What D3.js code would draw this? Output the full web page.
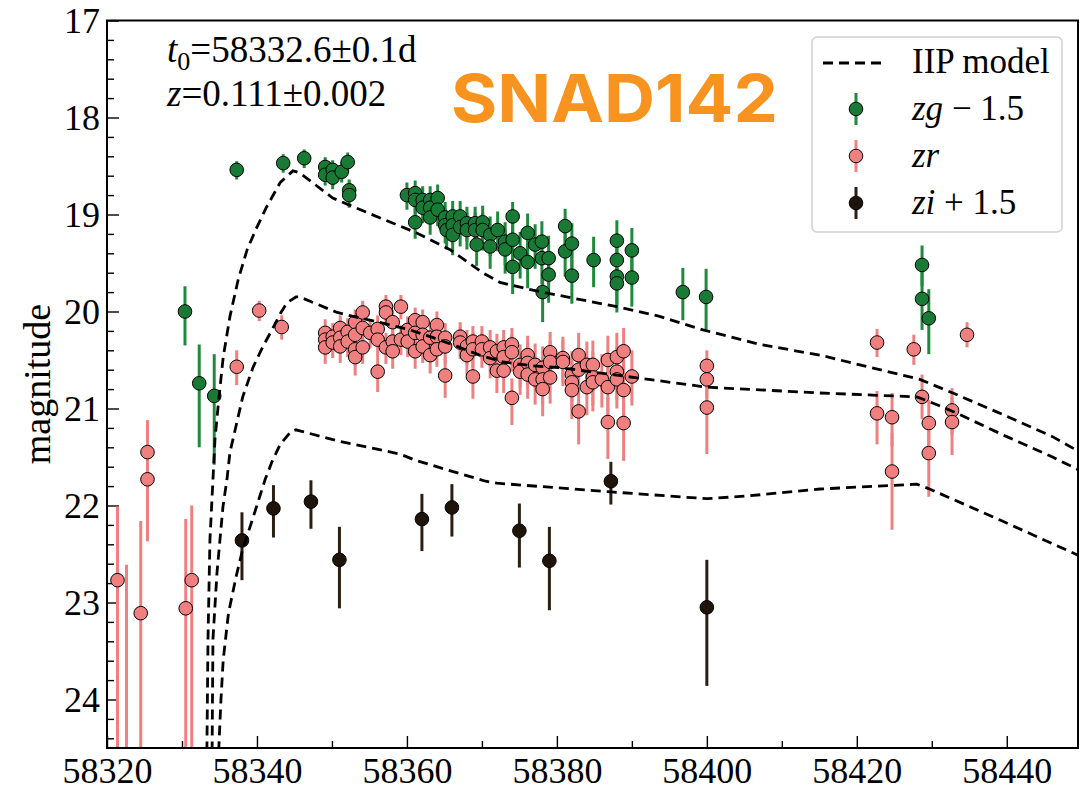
<!DOCTYPE html>
<html>
<head>
<meta charset="utf-8">
<script src="https://cdn.jsdelivr.net/npm/d3@7"></script>
<style>
  body { margin: 0; background: #fff; }
  svg { display: block; }
</style>
</head>
<body>
<div id="chart"></div>
<script>
// ---- data ----
// points: [MJD, magnitude, error toward brighter, error toward fainter]
var zgPoints = [
    [58330.4, 20.00, 0.26, 0.35], [58332.3, 20.74, 0.40, 0.66], [58334.3, 20.87, 0.43, 0.71],
    [58337.3, 18.54, 0.09, 0.10], [58343.5, 18.47, 0.09, 0.10], [58346.3, 18.42, 0.09, 0.10],
    [58349.1, 18.51, 0.10, 0.11], [58349.1, 18.59, 0.10, 0.11], [58350.1, 18.54, 0.10, 0.11],
    [58350.1, 18.62, 0.10, 0.12], [58351.3, 18.56, 0.10, 0.11], [58352.1, 18.46, 0.10, 0.11],
    [58352.3, 18.75, 0.11, 0.12], [58352.3, 18.80, 0.11, 0.13],
    [58360.0, 18.80, 0.13, 0.15], [58361.1, 18.78, 0.13, 0.15], [58361.1, 18.85, 0.13, 0.15],
    [58361.1, 19.08, 0.15, 0.17], [58362.1, 18.85, 0.14, 0.16], [58362.1, 18.93, 0.14, 0.16],
    [58363.1, 18.85, 0.14, 0.16], [58363.1, 18.93, 0.15, 0.17], [58363.1, 19.03, 0.15, 0.18],
    [58364.1, 18.83, 0.14, 0.16], [58364.1, 18.95, 0.15, 0.17], [58365.1, 19.03, 0.16, 0.18],
    [58365.1, 19.11, 0.17, 0.19], [58365.3, 19.16, 0.17, 0.20], [58366.1, 19.02, 0.16, 0.18],
    [58366.1, 19.11, 0.17, 0.19], [58366.1, 19.21, 0.18, 0.21], [58367.1, 19.02, 0.16, 0.18],
    [58367.1, 19.13, 0.17, 0.20], [58368.0, 19.09, 0.17, 0.19], [58368.0, 19.16, 0.18, 0.20],
    [58369.1, 19.09, 0.17, 0.20], [58369.1, 19.16, 0.18, 0.21], [58369.3, 19.31, 0.19, 0.22],
    [58370.1, 19.08, 0.17, 0.20], [58370.1, 19.16, 0.18, 0.21], [58371.1, 19.21, 0.19, 0.22],
    [58371.1, 19.33, 0.20, 0.23], [58372.1, 19.16, 0.19, 0.22], [58373.1, 19.28, 0.20, 0.24],
    [58373.1, 19.36, 0.21, 0.25], [58374.1, 19.02, 0.15, 0.17], [58374.1, 19.26, 0.20, 0.24],
    [58374.1, 19.54, 0.24, 0.28], [58375.1, 19.40, 0.22, 0.26], [58376.1, 19.19, 0.20, 0.23],
    [58376.1, 19.49, 0.23, 0.27], [58377.1, 19.31, 0.21, 0.25], [58378.0, 19.28, 0.21, 0.25],
    [58378.0, 19.45, 0.23, 0.27], [58378.1, 19.80, 0.22, 0.31], [58378.9, 19.45, 0.23, 0.27],
    [58378.9, 19.62, 0.25, 0.29], [58381.1, 19.12, 0.18, 0.21], [58381.1, 19.38, 0.22, 0.26],
    [58382.0, 19.30, 0.21, 0.25], [58382.0, 19.63, 0.25, 0.29], [58384.9, 19.47, 0.24, 0.28],
    [58388.0, 19.27, 0.21, 0.24], [58388.0, 19.47, 0.24, 0.28], [58388.0, 19.64, 0.25, 0.29],
    [58388.0, 19.71, 0.26, 0.30], [58390.0, 19.37, 0.23, 0.27], [58390.0, 19.65, 0.26, 0.30],
    [58396.8, 19.80, 0.25, 0.29], [58399.9, 19.85, 0.29, 0.34],
    [58428.7, 19.52, 0.20, 0.22], [58428.7, 19.87, 0.33, 0.32], [58429.6, 20.07, 0.30, 0.37]
];

var zrPoints = [
    [58321.4, 22.77, 0.76, 2.00], [58322.6, 25.20, 2.59, 1.00], [58324.5, 23.11, 0.95, 2.00],
    [58325.4, 21.45, 0.33, 0.35], [58325.4, 21.73, 0.35, 0.64], [58330.5, 23.06, 0.92, 2.00],
    [58331.3, 22.77, 0.77, 2.00], [58337.3, 20.57, 0.17, 0.19], [58340.3, 19.99, 0.10, 0.11],
    [58343.3, 20.16, 0.12, 0.13],
    [58349.1, 20.22, 0.14, 0.15], [58349.1, 20.29, 0.14, 0.16], [58349.1, 20.37, 0.15, 0.17],
    [58350.1, 20.26, 0.14, 0.16], [58350.1, 20.32, 0.15, 0.16], [58351.1, 20.17, 0.13, 0.15],
    [58351.1, 20.27, 0.14, 0.16], [58351.1, 20.36, 0.15, 0.17], [58352.1, 20.21, 0.14, 0.15],
    [58352.1, 20.31, 0.15, 0.16], [58353.1, 20.11, 0.13, 0.14], [58353.1, 20.24, 0.14, 0.16],
    [58353.1, 20.39, 0.15, 0.17], [58353.1, 20.47, 0.16, 0.19], [58354.1, 20.01, 0.12, 0.14],
    [58354.1, 20.17, 0.14, 0.15], [58354.1, 20.37, 0.15, 0.17], [58355.1, 20.22, 0.14, 0.16],
    [58356.1, 20.18, 0.14, 0.15], [58356.1, 20.29, 0.15, 0.16], [58356.1, 20.62, 0.18, 0.21],
    [58357.2, 19.95, 0.12, 0.13], [58357.2, 20.01, 0.12, 0.14], [58357.2, 20.37, 0.15, 0.17],
    [58358.1, 20.11, 0.13, 0.15], [58358.1, 20.31, 0.15, 0.16], [58358.1, 20.41, 0.16, 0.18],
    [58359.2, 19.95, 0.12, 0.13], [58359.2, 20.29, 0.15, 0.16], [58360.1, 20.19, 0.14, 0.15],
    [58360.1, 20.31, 0.15, 0.16], [58361.1, 20.09, 0.13, 0.15], [58361.1, 20.22, 0.14, 0.16],
    [58361.1, 20.41, 0.16, 0.18], [58362.1, 20.11, 0.13, 0.15], [58362.1, 20.24, 0.14, 0.16],
    [58362.1, 20.36, 0.15, 0.17], [58363.1, 20.27, 0.15, 0.16], [58363.1, 20.45, 0.17, 0.19],
    [58364.0, 20.14, 0.14, 0.15], [58364.0, 20.26, 0.15, 0.16], [58364.0, 20.39, 0.16, 0.18],
    [58365.1, 20.27, 0.15, 0.16], [58365.1, 20.36, 0.16, 0.18], [58365.1, 20.66, 0.19, 0.23],
    [58367.1, 20.26, 0.15, 0.17], [58367.1, 20.32, 0.16, 0.17], [58368.0, 20.36, 0.17, 0.19],
    [58368.0, 20.45, 0.18, 0.20], [58368.8, 20.31, 0.16, 0.18], [58368.8, 20.39, 0.17, 0.19],
    [58368.8, 20.67, 0.20, 0.23], [58370.0, 20.31, 0.16, 0.18], [58370.0, 20.39, 0.17, 0.19],
    [58371.1, 20.37, 0.18, 0.20], [58371.1, 20.48, 0.19, 0.21], [58372.0, 20.41, 0.18, 0.20],
    [58372.0, 20.61, 0.20, 0.23], [58372.9, 20.37, 0.18, 0.20], [58372.9, 20.47, 0.19, 0.21],
    [58372.9, 20.61, 0.20, 0.23], [58374.0, 20.34, 0.17, 0.19], [58374.0, 20.42, 0.18, 0.20],
    [58374.0, 20.89, 0.20, 0.28], [58375.1, 20.55, 0.21, 0.23], [58375.1, 20.62, 0.21, 0.24],
    [58376.1, 20.45, 0.20, 0.22], [58376.1, 20.53, 0.21, 0.23], [58376.1, 20.65, 0.22, 0.25],
    [58377.1, 20.55, 0.22, 0.24], [58377.1, 20.70, 0.23, 0.26], [58378.1, 20.58, 0.22, 0.25],
    [58378.1, 20.70, 0.23, 0.27], [58378.1, 20.80, 0.24, 0.28], [58379.1, 20.42, 0.21, 0.23],
    [58379.1, 20.52, 0.22, 0.24], [58379.1, 20.68, 0.23, 0.27], [58380.8, 20.48, 0.22, 0.25],
    [58380.8, 20.52, 0.23, 0.25], [58382.0, 20.65, 0.24, 0.27], [58382.0, 20.73, 0.25, 0.28],
    [58382.0, 20.81, 0.26, 0.30], [58382.9, 20.45, 0.23, 0.25], [58382.9, 20.60, 0.24, 0.27],
    [58382.9, 21.03, 0.24, 0.34], [58384.0, 20.55, 0.24, 0.27], [58384.0, 20.78, 0.26, 0.29],
    [58384.8, 20.55, 0.25, 0.27], [58384.8, 20.68, 0.26, 0.29], [58384.8, 20.73, 0.26, 0.30],
    [58386.0, 20.70, 0.26, 0.29], [58386.8, 20.50, 0.25, 0.27], [58386.8, 20.78, 0.27, 0.31],
    [58386.8, 21.14, 0.26, 0.38], [58388.0, 20.47, 0.25, 0.27], [58388.0, 20.62, 0.26, 0.29],
    [58388.0, 20.70, 0.27, 0.30], [58388.9, 20.41, 0.24, 0.27], [58388.9, 20.81, 0.28, 0.32],
    [58388.9, 21.15, 0.27, 0.39], [58390.0, 20.67, 0.27, 0.30],
    [58400.0, 20.56, 0.16, 0.18], [58400.0, 20.70, 0.18, 0.20], [58400.0, 20.99, 0.30, 0.48],
    [58422.7, 20.32, 0.14, 0.15], [58422.7, 21.05, 0.23, 0.32], [58424.7, 21.09, 0.25, 0.30],
    [58424.7, 21.65, 0.40, 0.60], [58427.6, 20.39, 0.15, 0.16], [58428.7, 20.88, 0.23, 0.23],
    [58429.6, 21.15, 0.24, 0.30], [58429.6, 21.46, 0.30, 0.45], [58432.7, 21.02, 0.23, 0.25],
    [58432.7, 21.14, 0.25, 0.34], [58434.7, 20.24, 0.13, 0.13]
];

var ziPoints = [
    [58338.0, 22.36, 0.29, 0.41], [58342.2, 22.03, 0.24, 0.30], [58347.2, 21.96, 0.22, 0.28],
    [58351.0, 22.56, 0.34, 0.50], [58362.0, 22.14, 0.26, 0.33], [58366.0, 22.02, 0.24, 0.30],
    [58375.0, 22.26, 0.28, 0.38], [58379.0, 22.57, 0.35, 0.51], [58387.2, 21.75, 0.20, 0.24],
    [58400.0, 23.05, 0.49, 0.81]
];

// IIP model curves: [MJD, magnitude]
var zgModel = [
    [58333.3, 24.7], [58333.47, 23.38], [58333.73, 22.35], [58334.4, 21.32], [58334.9, 20.91],
    [58335.5, 20.47], [58336.4, 20.05], [58337.5, 19.67], [58338.7, 19.36], [58340.0, 19.13],
    [58341.3, 18.92], [58343.1, 18.67], [58344.8, 18.55], [58345.7, 18.57], [58350.1, 18.83],
    [58354.7, 18.98], [58361.3, 19.19], [58365.7, 19.36], [58370.1, 19.60], [58372.4, 19.70],
    [58376.8, 19.78], [58381.3, 19.85], [58388.0, 19.95], [58393.7, 20.05], [58399.5, 20.19],
    [58407.1, 20.34], [58415.1, 20.45], [58428.4, 20.70], [58432.8, 20.84], [58440.0, 21.08],
    [58446.1, 21.29], [58450.0, 21.46]
];

var zrModel = [
    [58334.0, 24.7], [58334.13, 23.38], [58334.67, 22.69], [58335.47, 22.01], [58336.0, 21.73],
    [58336.4, 21.45], [58337.3, 21.15], [58338.1, 20.88], [58339.5, 20.57], [58340.8, 20.36],
    [58342.0, 20.19], [58343.2, 20.01], [58344.0, 19.91], [58345.2, 19.85], [58345.7, 19.85],
    [58350.7, 20.01], [58352.8, 20.05], [58356.8, 20.12], [58360.4, 20.19], [58363.5, 20.27],
    [58366.7, 20.36], [58369.7, 20.45], [58372.8, 20.52], [58376.8, 20.56], [58380.4, 20.58],
    [58384.4, 20.62], [58389.3, 20.67], [58400.0, 20.78], [58415.1, 20.84], [58428.0, 20.88],
    [58429.7, 20.93], [58432.8, 21.03], [58440.0, 21.29], [58446.1, 21.50], [58450.0, 21.65]
];

var ziModel = [
    [58334.8, 24.7], [58335.2, 24.0], [58335.5, 23.59], [58336.2, 23.11], [58337.2, 22.74],
    [58338.1, 22.45], [58339.5, 22.12], [58341.1, 21.73], [58342.0, 21.55], [58343.1, 21.37],
    [58344.5, 21.24], [58345.2, 21.22], [58345.7, 21.23], [58351.1, 21.34], [58359.1, 21.47],
    [58361.0, 21.53], [58365.7, 21.64], [58370.5, 21.75], [58372.0, 21.77], [58387.2, 21.86],
    [58400.0, 21.93], [58405.7, 21.90], [58415.1, 21.83], [58428.0, 21.78], [58429.7, 21.83],
    [58439.1, 22.15], [58450.0, 22.53]
];

var xTicks = [58320, 58340, 58360, 58380, 58400, 58420, 58440];
var yTicks = [17, 18, 19, 20, 21, 22, 23, 24];

var width = 1084,
    height = 790,
    margin = { top: 20.5, right: 6, bottom: 42, left: 107 },
    serif = '"Liberation Serif", "DejaVu Serif", serif',
    green = '#187a35',
    greenBar = '#1f8a3c',
    pink = '#f08080',
    dark = '#1e140a',
    darkBar = '#2a1f12';

var svg = d3.select('#chart').append('svg')
    .attr('width', width)
    .attr('height', height)
    .style('background', '#fff');

var x = d3.scaleLinear().domain([58320, 58449.5]).range([margin.left, width - margin.right]);
var y = d3.scaleLinear().domain([17, 24.5]).range([margin.top, height - margin.bottom]);

svg.append('clipPath').attr('id', 'plotClip')
    .append('rect')
    .attr('x', margin.left).attr('y', margin.top)
    .attr('width', x.range()[1] - margin.left)
    .attr('height', y.range()[1] - margin.top);

// axes, ticks pointing inward
var xAxis = d3.axisBottom(x).tickValues(xTicks).tickSize(-12).tickPadding(9).tickFormat(d3.format('d'));
var xMinor = d3.axisBottom(x).tickValues(d3.range(58330, 58450, 20)).tickSize(-7).tickFormat('');
var yAxis = d3.axisLeft(y).tickValues(yTicks).tickSize(-12).tickPadding(7).tickFormat(d3.format('d'));
var yMinor = d3.axisLeft(y).tickValues(d3.range(17.2, 24.5, 0.2).filter(function (v) {
    return Math.abs(v - Math.round(v)) > 0.05;
})).tickSize(-7).tickFormat('');

function styleAxis(g) {
    g.attr('font-family', serif).attr('font-size', 36);
    g.select('.domain').remove();
    g.selectAll('line').attr('stroke', '#000').attr('stroke-width', 1.4);
    g.selectAll('text')
        .attr('fill', '#000')
        .style('font-family', serif)
        .style('font-size', '36px');
}

svg.append('g').attr('transform', 'translate(0,' + y.range()[1] + ')').call(xMinor).call(styleAxis);
svg.append('g').attr('transform', 'translate(0,' + y.range()[1] + ')').call(xAxis).call(styleAxis);
svg.append('g').attr('transform', 'translate(' + margin.left + ',0)').call(yMinor).call(styleAxis);
svg.append('g').attr('transform', 'translate(' + margin.left + ',0)').call(yAxis).call(styleAxis);

svg.append('text')
    .attr('transform', 'translate(50,384) rotate(-90)')
    .attr('text-anchor', 'middle')
    .style('font-family', serif)
    .style('font-size', '38px')
    .text('magnitude');

// data
var plot = svg.append('g').attr('clip-path', 'url(#plotClip)');

function drawSeries(data, fill, barColor) {
    var g = plot.append('g');
    g.selectAll('line').data(data).enter().append('line')
        .attr('x1', function (d) { return x(d[0]); })
        .attr('x2', function (d) { return x(d[0]); })
        .attr('y1', function (d) { return y(d[1] - d[2]); })
        .attr('y2', function (d) { return y(d[1] + d[3]); })
        .attr('stroke', barColor)
        .attr('stroke-width', 3);
    g.selectAll('circle').data(data).enter().append('circle')
        .attr('cx', function (d) { return x(d[0]); })
        .attr('cy', function (d) { return y(d[1]); })
        .attr('r', 6.8)
        .attr('fill', fill)
        .attr('stroke', '#000')
        .attr('stroke-width', 1);
}

drawSeries(zgPoints, green, greenBar);
drawSeries(zrPoints, pink, pink);
drawSeries(ziPoints, dark, darkBar);

var line = d3.line()
    .x(function (d) { return x(d[0]); })
    .y(function (d) { return y(d[1]); });

[zgModel, zrModel, ziModel].forEach(function (m) {
    plot.append('path')
        .attr('d', line(m))
        .attr('fill', 'none')
        .attr('stroke', '#000')
        .attr('stroke-width', 2.8)
        .attr('stroke-dasharray', '10,6');
});

// frame
svg.append('rect')
    .attr('x', margin.left).attr('y', margin.top)
    .attr('width', x.range()[1] - margin.left)
    .attr('height', y.range()[1] - margin.top)
    .attr('fill', 'none')
    .attr('stroke', '#000')
    .attr('stroke-width', 2);

// annotations
var t0 = svg.append('text')
    .attr('x', 167).attr('y', 62)
    .style('font-family', serif)
    .style('font-size', '37px');
t0.append('tspan').style('font-style', 'italic').text('t');
t0.append('tspan').attr('dy', 8).style('font-size', '26px').text('0');
t0.append('tspan').attr('dy', -8).text('=58332.6±0.1d');

var zt = svg.append('text')
    .attr('x', 167).attr('y', 106)
    .style('font-family', serif)
    .style('font-size', '37px');
zt.append('tspan').style('font-style', 'italic').text('z');
zt.append('tspan').text('=0.111±0.002');

svg.append('text')
    .attr('x', 451).attr('y', 121.5)
    .attr('textLength', 327)
    .attr('lengthAdjust', 'spacingAndGlyphs')
    .style('font-family', 'Inter, "Open Sans", sans-serif')
    .style('font-weight', 700)
    .style('font-size', '66px')
    .attr('fill', '#f7931e')
    .text('SNAD142');

// legend
var legend = svg.append('g');
legend.append('rect')
    .attr('x', 812).attr('y', 37)
    .attr('width', 250).attr('height', 195)
    .attr('rx', 5)
    .attr('fill', '#fff')
    .attr('fill-opacity', 0.8)
    .attr('stroke', '#d0d0d0')
    .attr('stroke-width', 1.5);

legend.append('line')
    .attr('x1', 823).attr('x2', 886).attr('y1', 63).attr('y2', 63)
    .attr('stroke', '#000').attr('stroke-width', 2.8).attr('stroke-dasharray', '10,6');

var legendItems = [
    { y: 109, fill: green, bar: greenBar, parts: [['zg', true], [' \u2212 1.5', false]] },
    { y: 156, fill: pink, bar: pink, parts: [['zr', true]] },
    { y: 203, fill: dark, bar: darkBar, parts: [['zi', true], [' + 1.5', false]] }
];

legendItems.forEach(function (it) {
    legend.append('line')
        .attr('x1', 856).attr('x2', 856).attr('y1', it.y - 16).attr('y2', it.y + 16)
        .attr('stroke', it.bar).attr('stroke-width', 3);
    legend.append('circle')
        .attr('cx', 856).attr('cy', it.y).attr('r', 6.8)
        .attr('fill', it.fill).attr('stroke', '#000').attr('stroke-width', 1);
    var t = legend.append('text')
        .attr('x', 912).attr('y', it.y + 11)
        .style('font-family', serif)
        .style('font-size', '35px')
        .style('white-space', 'pre');
    it.parts.forEach(function (p) {
        t.append('tspan').style('font-style', p[1] ? 'italic' : 'normal').text(p[0]);
    });
});

legend.append('text')
    .attr('x', 912).attr('y', 73)
    .style('font-family', serif)
    .style('font-size', '35px')
    .text('IIP model');
</script>
</body>
</html>
